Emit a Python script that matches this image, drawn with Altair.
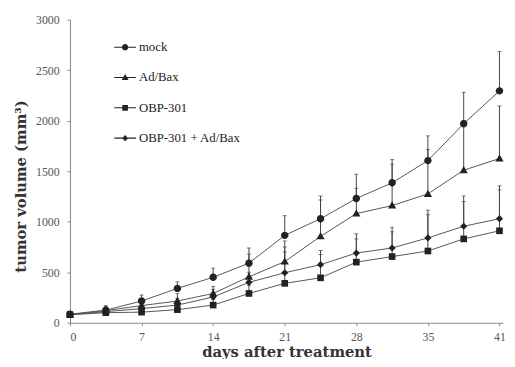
import altair as alt
import pandas as pd

# time points (equally spaced positions), labelled days
positions = list(range(13))
day_labels = {0: "0", 2: "7", 4: "14", 6: "21", 8: "28", 10: "35", 12: "41"}

groups = ["mock", "Ad/Bax", "OBP-301", "OBP-301 + Ad/Bax"]

mock = [85, 125, 215, 340, 450, 590, 865, 1030, 1230, 1385, 1605, 1970, 2295]
mock_up = [100, 170, 275, 405, 540, 740, 1060, 1255, 1470, 1615, 1850, 2280, 2685]

adbax = [80, 120, 170, 215, 290, 455, 605, 855, 1080, 1160, 1275, 1510, 1625]
adbax_up = [95, 160, 240, 290, 360, 680, 810, 1215, 1330, 1570, 1715, 2000, 2145]

obp = [80, 100, 105, 130, 175, 290, 390, 445, 600, 655, 710, 830, 910]
obp_up = [90, 125, 150, 175, 230, 370, 700, 675, 830, 900, 1070, 1200, 1315]

combo = [80, 110, 140, 175, 255, 400, 495, 575, 690, 740, 840, 955, 1030]
combo_up = [95, 140, 195, 240, 330, 500, 750, 715, 880, 945, 1115, 1255, 1355]

rows = []
for g, m, u in [("mock", mock, mock_up), ("Ad/Bax", adbax, adbax_up),
                ("OBP-301", obp, obp_up), ("OBP-301 + Ad/Bax", combo, combo_up)]:
    for p, v, up in zip(positions, m, u):
        rows.append({"t": p, "group": g, "vol": v, "up": up})
df = pd.DataFrame(rows)

# marker shapes (for the plot) and marker-with-line shapes (for the legend)
marker_shapes = [
    "M0.29,0A0.29,0.29,0,1,1,-0.29,0A0.29,0.29,0,1,1,0.29,0Z",
    "M0,-0.33L0.32,0.23L-0.32,0.23Z",
    "M-0.26,-0.26H0.26V0.26H-0.26Z",
    "M0,-0.28L0.28,0L0,0.28L-0.28,0Z",
]
legend_shapes = ["M-1,-0.05H1V0.05H-1Z" + s for s in marker_shapes]

label_expr = "{0:'0',2:'7',4:'14',6:'21',8:'28',10:'35',12:'41'}[datum.value]"

serif = "Liberation Serif"
title_font = "DejaVu Serif"

x = alt.X("t:Q", scale=alt.Scale(domain=[0, 12.1], nice=False, zero=False),
          axis=alt.Axis(values=[0, 2, 4, 6, 8, 10, 12], labelExpr=label_expr,
                        title="days after treatment", grid=False, tickSize=3,
                        labelPadding=6, titlePadding=2))
y = alt.Y("vol:Q", scale=alt.Scale(domain=[0, 3000], nice=False),
          axis=alt.Axis(values=[0, 500, 1000, 1500, 2000, 2500, 3000], format="d",
                        title="tumor volume (mm³)", grid=False, tickSize=3,
                        labelPadding=8, titleX=-42, titleY=169))

base = alt.Chart(df)

err = base.mark_rule(color="#444", strokeWidth=1).encode(
    x=x, y=y, y2="up:Q", detail="group:N")
cap = base.mark_tick(color="#444", thickness=1, size=4, orient="horizontal").encode(
    x=x, y=alt.Y("up:Q"), detail="group:N")
lines = base.mark_line(color="#555", strokeWidth=1).encode(
    x=x, y=y, detail="group:N", order="t:Q")
pts = base.mark_point(filled=True, color="#222", opacity=1, size=676).encode(
    x=x, y=y,
    shape=alt.Shape("group:N", scale=alt.Scale(domain=groups, range=marker_shapes),
                    legend=None),
)
leg = base.transform_filter("false").mark_point(
    filled=True, color="#222", opacity=1
).encode(
    x=x, y=y,
    shape=alt.Shape("group:N", scale=alt.Scale(domain=groups, range=legend_shapes),
                    legend=alt.Legend(title=None, orient="none", legendX=44, legendY=16,
                                      symbolSize=484, symbolFillColor="#222",
                                      labelFont=serif, labelFontSize=13,
                                      labelColor="#222", rowPadding=11.8, labelOffset=2)),
)

chart = alt.layer(err, cap, lines, pts, leg).resolve_scale(shape="independent").properties(
    width=440, height=308,
    autosize=alt.AutoSizeParams(type="none"),
    padding={"left": 63, "top": 9, "right": 4, "bottom": 34},
).configure_view(stroke=None).configure_axis(
    domainColor="#888", tickColor="#888", labelFont=serif, labelFontSize=12,
    labelColor="#555", titleFont=title_font, titleFontSize=15, titleFontWeight="bold",
    titleColor="#333",
)

chart.save("out.html", embed_options={"renderer": "svg", "actions": False})
